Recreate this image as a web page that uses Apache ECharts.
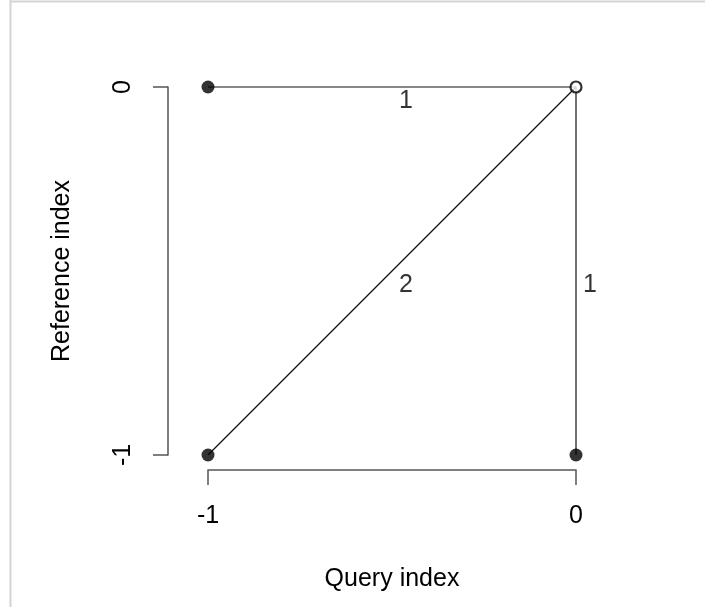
<!DOCTYPE html>
<html>
<head>
<meta charset="utf-8">
<script src="https://cdn.jsdelivr.net/npm/echarts@6/dist/echarts.min.js"></script>
<style>
  html, body { margin: 0; padding: 0; background: #fff; }
  #chart { width: 705px; height: 607px; }
</style>
</head>
<body>
<div id="chart"></div>
<script>
// Step pattern: predecessor cells linked to the current cell (0, 0)
const queryIdx = [-1, -1, 0];       // x of each predecessor
const referenceIdx = [0, -1, -1];   // y of each predecessor
const stepWeights = [1, 2, 1];      // weight carried on each step
const currentCell = [0, 0];
const tickValues = [-1, 0];

const fontFamily = '"Liberation Sans", Arial, Helvetica, sans-serif';
const fontSize = 25;

const segments = queryIdx.map((q, i) => ({
  coords: [[q, referenceIdx[i]], currentCell],
  weight: stepWeights[i]
}));

const lineSeries = segments.map(s => ({
  type: 'line',
  data: s.coords,
  symbol: 'none',
  clip: false,
  silent: true,
  lineStyle: { color: '#111', width: 1.2 },
  z: 2
}));

const chart = echarts.init(document.getElementById('chart'), null, { renderer: 'canvas' });

chart.setOption({
  animation: false,
  backgroundColor: '#fff',
  grid: { left: 208, top: 87, width: 368, height: 368, containLabel: false },
  xAxis: {
    type: 'value', min: -1, max: 0, interval: 1, offset: 15,
    name: 'Query index', nameLocation: 'middle', nameGap: 97,
    nameTextStyle: { fontFamily, fontSize, color: '#000' },
    axisLine: { show: true, onZero: false, lineStyle: { color: '#555', width: 1.5 } },
    axisTick: { show: true, length: 15, lineStyle: { color: '#555', width: 1.5 } },
    axisLabel: {
      margin: 34, fontFamily, fontSize, color: '#000',
      formatter: v => tickValues.includes(v) ? String(v) : ''
    },
    splitLine: { show: false }
  },
  yAxis: {
    type: 'value', min: -1, max: 0, interval: 1, offset: 40,
    name: 'Reference index', nameLocation: 'middle', nameGap: 93, nameRotate: 90,
    nameTextStyle: { fontFamily, fontSize, color: '#000' },
    axisLine: { show: true, onZero: false, lineStyle: { color: '#555', width: 1.5 } },
    axisTick: { show: true, length: 15, lineStyle: { color: '#555', width: 1.5 } },
    axisLabel: {
      margin: 32, rotate: 90, fontFamily, fontSize, color: '#000',
      formatter: v => tickValues.includes(v) ? String(v) : ''
    },
    splitLine: { show: false }
  },
  graphic: [
    { type: 'line', shape: { x1: 10.5, y1: 0, x2: 10.5, y2: 607 }, style: { stroke: '#d4d4d4', lineWidth: 2 } },
    { type: 'line', shape: { x1: 10, y1: 1.5, x2: 705, y2: 1.5 }, style: { stroke: '#d4d4d4', lineWidth: 2 } }
  ],
  series: [
    ...lineSeries,
    {
      // predecessors
      type: 'scatter',
      data: queryIdx.map((q, i) => [q, referenceIdx[i]]),
      symbol: 'circle', symbolSize: 13, clip: false, silent: true,
      itemStyle: { color: '#000' },
      z: 3
    },
    {
      // current cell
      type: 'scatter',
      data: [currentCell],
      symbol: 'circle', symbolSize: 11, clip: false, silent: true,
      itemStyle: { color: '#fff', borderColor: '#000', borderWidth: 2.2 },
      z: 3
    },
    {
      // step weights, placed beside each segment's midpoint
      type: 'scatter',
      data: segments.map(s => ({
        value: [(s.coords[0][0] + s.coords[1][0]) / 2, (s.coords[0][1] + s.coords[1][1]) / 2],
        weight: s.weight
      })),
      symbolSize: 0, clip: false, silent: true,
      label: {
        show: true, position: 'inside', offset: [14, 14],
        fontFamily, fontSize, color: '#000',
        formatter: p => String(p.data.weight)
      },
      z: 4
    }
  ]
});
</script>
</body>
</html>
